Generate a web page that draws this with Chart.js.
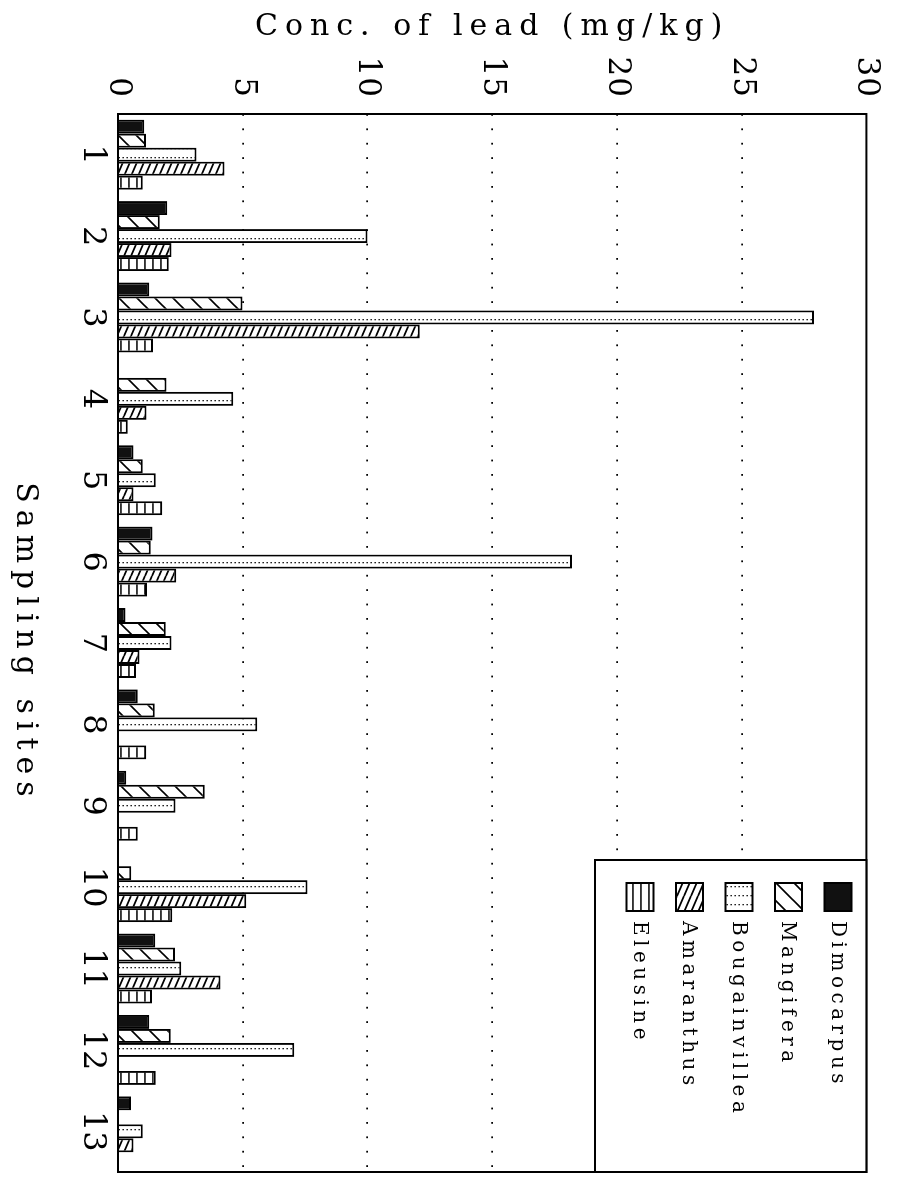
<!DOCTYPE html>
<html>
<head>
<meta charset="utf-8">
<script src="https://cdn.jsdelivr.net/npm/chart.js@4.4.1/dist/chart.umd.min.js"></script>
<style>
  html, body { margin: 0; padding: 0; background: #fff; overflow: hidden; }
  #page { position: relative; width: 901px; height: 1178px; overflow: hidden; background: #fff; }
  /* the figure is laid out as a column chart and turned a quarter turn clockwise */
  #chart { position: absolute; left: 0; top: 0; transform-origin: 0 0; transform: translate(901px, 0) rotate(90deg); }
</style>
</head>
<body>
<div id="page"><canvas id="chart" width="1178" height="901"></canvas></div>
<script>
// Lead concentration (mg/kg) in plant samples at each sampling site
const sites = ['1', '2', '3', '4', '5', '6', '7', '8', '9', '10', '11', '12', '13'];
const dimocarpus    = [1.05, 1.97, 1.25, null, 0.62, 1.38, 0.30, 0.79, 0.33, null, 1.49, 1.25, 0.52];
const mangifera     = [1.12, 1.67, 4.99, 1.94, 0.99, 1.31, 1.91, 1.47, 3.48, 0.53, 2.28, 2.11, null];
const bougainvillea = [3.15, 10.0, 27.9, 4.62, 1.51, 18.2, 2.14, 5.58, 2.30, 7.60, 2.54, 7.07, 0.99];
const amaranthus    = [4.27, 2.14, 12.1, 1.14, 0.62, 2.33, 0.86, null, null, 5.14, 4.11, null, 0.62];
const eleusine      = [0.99, 2.03, 1.40, 0.39, 1.77, 1.16, 0.72, 1.13, 0.79, 2.17, 1.36, 1.51, null];
const speciesNames  = ['Dimocarpus', 'Mangifera', 'Bougainvillea', 'Amaranthus', 'Eleusine'];
const valueTicks    = [0, 5, 10, 15, 20, 25, 30];

const INK = '#000';
const SERIF = "'DejaVu Serif', 'Liberation Serif', serif";

const canvas = document.getElementById('chart');
const ctx = canvas.getContext('2d');

// Typewriter-style tracking, chosen by font size
const TRACKING = { 30: 7, 20: 4.5, 31: 1, 32: 0 };
function applyTracking(c) {
  const m = /(\d+(?:\.\d+)?)px/.exec(c.font);
  const t = m ? (TRACKING[Math.round(parseFloat(m[1]))] || 0) : 0;
  if ('letterSpacing' in c) c.letterSpacing = t + 'px';
}
const baseFillText = ctx.fillText;
ctx.fillText = function () { applyTracking(this); return baseFillText.apply(this, arguments); };
const baseMeasureText = ctx.measureText;
ctx.measureText = function () { applyTracking(this); return baseMeasureText.apply(this, arguments); };

// Monochrome fill patterns
function makePattern(w, h, paint) {
  const c = document.createElement('canvas');
  c.width = w; c.height = h;
  const g = c.getContext('2d');
  g.fillStyle = '#fff';
  g.fillRect(0, 0, w, h);
  g.strokeStyle = INK; g.fillStyle = INK;
  paint(g, w, h);
  return ctx.createPattern(c, 'repeat');
}
const fills = {
  solid: '#111',
  slashWide: makePattern(18, 18, (g, w, h) => {
    g.lineWidth = 1.6;
    g.beginPath();
    g.moveTo(0, h); g.lineTo(w, 0);
    g.moveTo(-2, 2); g.lineTo(2, -2);
    g.moveTo(w - 2, h + 2); g.lineTo(w + 2, h - 2);
    g.stroke();
  }),
  dotted: makePattern(9, 4, (g) => {
    g.fillStyle = '#222';
    g.fillRect(4, 1, 1.3, 1.6);
  }),
  backDense: makePattern(16, 7, (g, w, h) => {
    g.lineWidth = 1.7;
    g.beginPath();
    for (const dy of [-h, 0, h]) { g.moveTo(0, dy); g.lineTo(w, dy + h); }
    g.stroke();
  }),
  rungs: makePattern(8, 8, (g, w) => {
    g.fillRect(0, 3.3, w, 1.5);
  })
};

const seriesValues = [dimocarpus, mangifera, bougainvillea, amaranthus, eleusine];
const seriesFills = [fills.solid, fills.slashWide, fills.dotted, fills.backDense, fills.rungs];

const datasets = speciesNames.map((name, i) => ({
  label: name,
  data: seriesValues[i],
  backgroundColor: seriesFills[i],
  borderColor: INK,
  borderWidth: 2,
  borderSkipped: 'start',
  barPercentage: 1,
  categoryPercentage: 0.86
}));

// Plot frame
const framePlugin = {
  id: 'frame',
  afterDatasetsDraw(chart) {
    const { ctx: c, chartArea: a } = chart;
    c.save();
    c.strokeStyle = INK;
    c.lineWidth = 2;
    c.strokeRect(a.left, a.top, a.right - a.left, a.bottom - a.top);
    c.restore();
  }
};

// Boxed key in the upper-right corner of the plot
const keyPlugin = {
  id: 'boxedKey',
  afterDatasetsDraw(chart) {
    const { ctx: c, chartArea: a } = chart;
    const items = Chart.defaults.plugins.legend.labels.generateLabels(chart);
    const boxLeft = 860, boxBottom = 306;
    c.save();
    c.fillStyle = '#fff';
    c.fillRect(boxLeft, a.top, a.right - boxLeft, boxBottom - a.top);
    c.strokeStyle = INK;
    c.lineWidth = 2;
    c.strokeRect(boxLeft, a.top, a.right - boxLeft, boxBottom - a.top);
    c.font = '20px ' + SERIF;
    c.textBaseline = 'middle';
    c.textAlign = 'left';
    items.forEach((item, i) => {
      const cy = 63 + i * 49.5;
      c.fillStyle = item.fillStyle;
      c.fillRect(883, cy - 13.5, 28, 27);
      c.lineWidth = 2;
      c.strokeStyle = INK;
      c.strokeRect(883, cy - 13.5, 28, 27);
      c.fillStyle = INK;
      c.fillText(item.text, 921, cy + 1);
    });
    c.restore();
  }
};

new Chart(canvas, {
  type: 'bar',
  data: { labels: sites, datasets },
  options: {
    responsive: false,
    animation: false,
    devicePixelRatio: 1,
    layout: { padding: { top: 22, right: 6, left: 0, bottom: 0 } },
    plugins: {
      legend: { display: false },
      tooltip: { enabled: false }
    },
    scales: {
      x: {
        type: 'category',
        grid: { display: false, drawTicks: false },
        border: { display: false },
        ticks: {
          color: INK,
          font: { family: SERIF, size: 32 },
          padding: 6,
          maxRotation: 0,
          autoSkip: false
        },
        title: {
          display: true,
          text: 'Sampling sites',
          color: INK,
          font: { family: SERIF, size: 30 },
          padding: { top: 0, bottom: 7 }
        },
        afterFit(scale) { scale.height = 118; }
      },
      y: {
        min: valueTicks[0],
        max: valueTicks[valueTicks.length - 1],
        afterBuildTicks(scale) { scale.ticks = valueTicks.map(v => ({ value: v })); },
        grid: {
          drawTicks: false,
          lineWidth: 1.8,
          color: (ctxt) => (ctxt.tick && (ctxt.tick.value === valueTicks[0] || ctxt.tick.value === valueTicks[valueTicks.length - 1])) ? 'rgba(0,0,0,0)' : INK
        },
        border: { display: false, dash: [1.8, 12.6] },
        ticks: {
          color: INK,
          font: { family: SERIF, size: 31 },
          padding: 16
        },
        title: {
          display: true,
          text: 'Conc. of lead (mg/kg)',
          color: INK,
          font: { family: SERIF, size: 30 },
          padding: { top: 9, bottom: 0 }
        },
        afterFit(scale) { scale.width = 114; }
      }
    }
  },
  plugins: [framePlugin, keyPlugin]
});
</script>
</body>
</html>
